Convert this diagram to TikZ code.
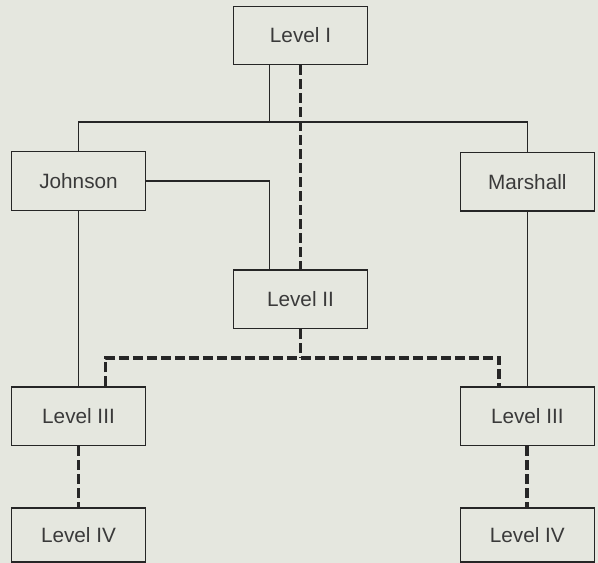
\documentclass[tikz,border=0pt]{standalone}
\usepackage{fontspec}
\setmainfont{Liberation Sans}
\usepackage{xcolor}
\usepackage{tikz}
\usetikzlibrary{positioning}
\definecolor{paper}{HTML}{E5E7DF}
\definecolor{ink}{HTML}{262626}
\definecolor{type}{HTML}{3A3A3A}
\tikzset{
  unit/.style={rectangle, draw=ink, line width=1.1pt, fill=paper, text=type, align=center, minimum width=40.2mm, minimum height=17.6mm, inner sep=0pt, font=\fontsize{17.7}{20}\selectfont},
  formal/.style={draw=ink, line width=1.1pt},
  informal/.style={draw=ink, line width=3.3pt, dash pattern=on 3mm off 1.2mm},
}
\begin{document}
\begin{tikzpicture}
  \fill[paper] (0,0) rectangle (179.4mm,-168.9mm);
  \useasboundingbox (0,0) rectangle (179.4mm,-168.9mm);
  \node[unit] (lvl1) at (90.15mm,-10.65mm) {Level I};
  \node[unit] (johnson) at (23.55mm,-54.3mm) {Johnson};
  \node[unit] (marshall) at (158.2mm,-54.5mm) {Marshall};
  \node[unit, below=61.2mm of lvl1] (lvl2) {Level II};
  \node[unit, below=52.6mm of johnson] (lvl3l) {Level III};
  \node[unit, below=52.4mm of marshall] (lvl3r) {Level III};
  \node[unit, minimum height=16.2mm, below=18.3mm of lvl3l] (lvl4l) {Level IV};
  \node[unit, minimum height=16.2mm, below=18.3mm of lvl3r] (lvl4r) {Level IV};
  \coordinate (bus) at (0,-36.6mm);
  \coordinate (split) at (0,-107.3mm);
  % formal lines
  \draw[formal] ([xshift=-9.4mm]lvl1.south) -- ([xshift=-9.4mm]lvl1.south |- bus);
  \draw[formal] (johnson.north) |- (marshall.north |- bus) -- (marshall.north);
  \draw[formal] (johnson.east) -| ([xshift=-9.4mm]lvl2.north);
  \draw[formal] (johnson.south) -- (lvl3l.north);
  \draw[formal] (marshall.south) -- (lvl3r.north);
  % informal lines
  \draw[informal] (lvl1.south) -- (lvl2.north);
  \draw[informal] (lvl2.south) -- (lvl2.south |- split);
  \draw[informal] ([xshift=8.1mm]lvl3l.north) |- (lvl2.south |- split) -| ([xshift=-8.4mm]lvl3r.north);
  \draw[informal] (lvl3l.south) -- (lvl4l.north);
  \draw[informal] (lvl3r.south) -- (lvl4r.north);
\end{tikzpicture}
\end{document}
